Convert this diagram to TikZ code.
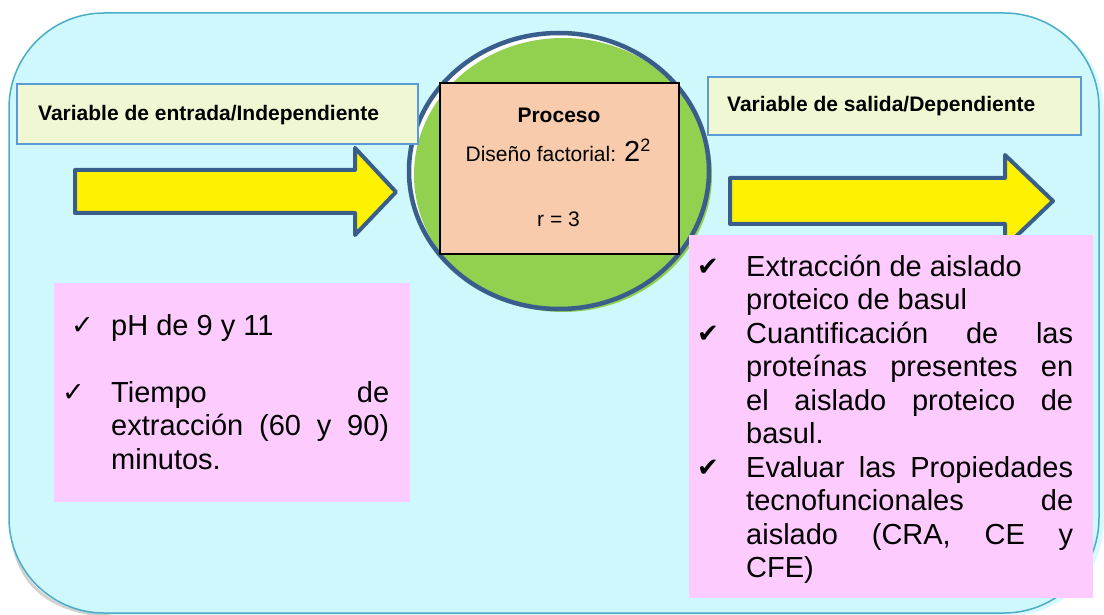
\documentclass[tikz,border=0pt]{standalone}
\usepackage{fontspec}
\setmainfont{Liberation Sans}
\newfontfamily\symfont{DejaVu Sans}
\usetikzlibrary{shapes.geometric}
\definecolor{bgcyan}{HTML}{CEF8FB}
\definecolor{bgshadow}{HTML}{D9FAFC}
\definecolor{bgborder}{HTML}{4BACC6}
\definecolor{lblfill}{HTML}{F0F8D3}
\definecolor{lblborder}{HTML}{5B9BD5}
\definecolor{arrowblue}{HTML}{3A5E8C}
\definecolor{peach}{HTML}{F8CBAD}
\definecolor{grn}{HTML}{92D050}
\definecolor{pinkfill}{HTML}{FDCBFD}
\begin{document}
\begin{tikzpicture}[x=1pt,y=-1pt,
  lbl/.style={draw=lblborder, fill=lblfill, line width=2pt, inner sep=0, anchor=north west},
  lbltext/.style={font=\fontsize{21}{25}\selectfont\bfseries, anchor=base west, inner sep=0},
  yarrow/.style={draw=arrowblue, fill=yellow, line width=4pt, line join=round},
  pinkbox/.style={fill=pinkfill, inner sep=0, anchor=north west},
  bodyline/.style={font=\fontsize{29}{33.5}\selectfont, anchor=base west, inner sep=0},
  chk/.style={font=\symfont\fontsize{27}{28}\selectfont, anchor=base west, inner sep=0},
  chkb/.style={font=\symfont\fontsize{26}{28}\selectfont, anchor=base west, inner sep=0},
  proctext/.style={font=\fontsize{21}{25}\selectfont, anchor=base, inner sep=0}
]
\useasboundingbox (0,0) rectangle (1104,615);
% background frame with shadow
\node (frameshadow) [fill=bgshadow, rounded corners=95pt, minimum width=1090pt, minimum height=600pt, inner sep=0] at (559,316) {};
\draw[black!35, line width=3pt, opacity=0.5] (11,520) .. controls (12,585) and (50,612) .. (110,616);
\node (frame) [draw=bgborder, fill=bgcyan, line width=1.5pt, rounded corners=95pt, minimum width=1090pt, minimum height=600pt, inner sep=0] at (554,313) {};

% left arrow
\draw[yarrow] (75,170) -- (355,170) -- (355,148) -- (396,192) -- (355,235) -- (355,213) -- (75,213) -- cycle;
% right arrow
\draw[yarrow] (730,178) -- (1005,178) -- (1005,155) -- (1053,201) -- (1005,247) -- (1005,224) -- (730,224) -- cycle;

% circle
\fill[white] (559,171) ellipse [x radius=150, y radius=138];
\fill[grn] (563,175) ellipse [x radius=149, y radius=137];
\node (circ) [ellipse, draw=arrowblue, line width=4.5pt, minimum width=300pt, minimum height=276pt, inner sep=0] at (559,171) {};

% process box
\node (proc) [draw=black, line width=1.8pt, fill=peach, minimum width=239pt, minimum height=171pt, inner sep=0, anchor=north west] at (439,82) {};
\node (proctitle) [proctext, font=\fontsize{21}{25}\selectfont\bfseries] at (559,123) {Proceso};
\node (procdesign) [proctext] at (558,162) {Diseño factorial:{\fontsize{29}{30}\selectfont\ 2}\raisebox{10pt}{\fontsize{18}{19}\selectfont 2}};
\node (procr) [proctext] at (558.5,226) {r = 3};

% labels
\node (inlbl) [lbl, minimum width=401pt, minimum height=60pt] at (16,83) {};
\node (inlbltext) [lbltext] at (38,121) {Variable de entrada/Independiente};
\node (outlbl) [lbl, minimum width=373pt, minimum height=58pt] at (707,76) {};
\node (outlbltext) [lbltext] at (727,112) {Variable de salida/Dependiente};

% left pink box
\node (inbox) [pinkbox, minimum width=356pt, minimum height=219pt] at (54,283) {};
\node (ck1) [chk] at (71,334) {✓};
\node (l1) [bodyline] at (111,335) {pH de 9 y 11};
\node (ck2) [chk] at (62,401) {✓};
\node (l2) [bodyline] at (111,402) {\makebox[278pt][s]{Tiempo de}};
\node (l3) [bodyline] at (111,435.5) {\makebox[278pt][s]{extracción (60 y 90)}};
\node (l4) [bodyline] at (111,469) {minutos.};

% right pink box
\node (outbox) [pinkbox, minimum width=404pt, minimum height=363pt] at (689,235) {};
\node (ck3) [chkb] at (697,275) {✔};
\node (ck4) [chkb] at (697,342) {✔};
\node (ck5) [chkb] at (697,476) {✔};
\node (r1) [bodyline] at (746,276) {Extracción de aislado};
\node (r2) [bodyline] at (746,309.5) {proteico de basul};
\node (r3) [bodyline] at (746,343) {\makebox[327pt][s]{Cuantificación de las}};
\node (r4) [bodyline] at (746,376.5) {\makebox[327pt][s]{proteínas presentes en}};
\node (r5) [bodyline] at (746,410) {\makebox[327pt][s]{el aislado proteico de}};
\node (r6) [bodyline] at (746,443.5) {basul.};
\node (r7) [bodyline] at (746,477) {\makebox[327pt][s]{Evaluar las Propiedades}};
\node (r8) [bodyline] at (746,510.5) {\makebox[327pt][s]{tecnofuncionales de}};
\node (r9) [bodyline] at (746,544) {\makebox[327pt][s]{aislado (CRA, CE y}};
\node (r10) [bodyline] at (746,577.5) {CFE)};
\end{tikzpicture}
\end{document}
